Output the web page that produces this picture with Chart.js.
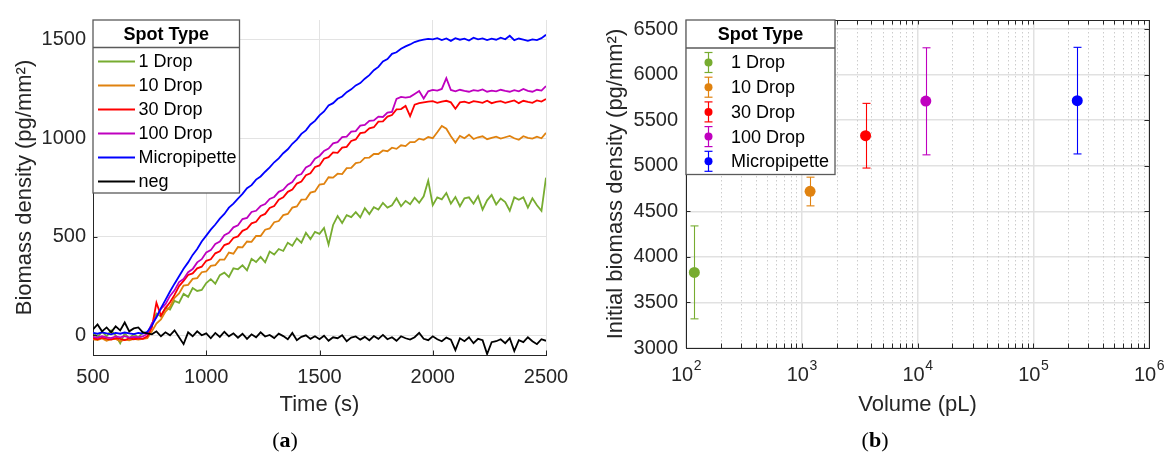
<!DOCTYPE html>
<html>
<head>
<meta charset="utf-8">
<script src="https://cdn.jsdelivr.net/npm/chart.js@4.4.1/dist/chart.umd.min.js"></script>
<style>
  body { margin:0; background:#fff; width:1169px; height:452px; overflow:hidden; position:relative; }
  canvas { position:absolute; top:0; }
  #chartA { left:0; }
  #chartB { left:584px; }
  .cap { position:absolute; top:426px; line-height:28px; font-family:"Liberation Serif","DejaVu Serif",serif; font-size:22px; color:#000; transform:translateX(-50%); }
</style>
</head>
<body>
<canvas id="chartA" width="584" height="452"></canvas>
<canvas id="chartB" width="585" height="452"></canvas>
<div class="cap" style="left:285px">(<b>a</b>)</div>
<div class="cap" style="left:875px">(<b>b</b>)</div>
<script>
// ---- (a) biomass density vs time, one reading every 20 s ----
const times = [
  500,520,540,560,580,600,620,640,660,680,
  700,720,740,760,780,800,820,840,860,880,
  900,920,940,960,980,1000,1020,1040,1060,1080,
  1100,1120,1140,1160,1180,1200,1220,1240,1260,1280,
  1300,1320,1340,1360,1380,1400,1420,1440,1460,1480,
  1500,1520,1540,1560,1580,1600,1620,1640,1660,1680,
  1700,1720,1740,1760,1780,1800,1820,1840,1860,1880,
  1900,1920,1940,1960,1980,2000,2020,2040,2060,2080,
  2100,2120,2140,2160,2180,2200,2220,2240,2260,2280,
  2300,2320,2340,2360,2380,2400,2420,2440,2460,2480,
  2500
];
const drop1 = [
  15,-10,20,-5,25,0,-40,10,-15,5,
  -10,15,10,55,110,95,140,130,175,165,
  210,195,240,225,230,265,285,262,305,318,
  296,340,335,355,330,388,372,398,370,425,
  410,438,428,470,455,492,470,520,488,525,
  515,545,460,560,605,570,610,600,625,598,
  645,615,650,638,672,648,660,695,655,682,
  665,698,672,705,785,660,700,690,722,668,
  702,655,695,700,668,706,638,685,712,664,
  694,676,632,700,688,700,648,695,660,632,
  800
];
const drop10 = [
  -20,-24,-16,-28,-20,-18,-30,-22,-26,-18,
  -22,-18,-15,20,60,80,120,145,190,212,
  252,256,286,290,320,324,352,356,384,384,
  420,414,448,446,476,474,504,504,536,542,
  574,580,610,616,648,654,688,690,724,730,
  765,768,802,800,820,818,848,850,874,878,
  900,902,920,920,938,934,952,946,964,960,
  980,980,998,992,1006,1000,1030,1062,1048,1010,
  978,1012,1000,1018,996,1005,1010,995,1002,1008,
  998,1005,1012,1000,992,1010,1002,998,1008,1000,
  1027
];
const drop30 = [
  -15,-20,-12,-18,-22,-14,-18,-24,-16,-20,
  -15,-18,-5,40,165,100,138,168,205,250,
  276,306,314,340,348,378,386,416,426,458,
  466,494,502,530,540,568,576,606,616,646,
  656,688,700,728,740,770,780,812,822,854,
  862,896,904,928,926,952,956,986,994,1026,
  1030,1050,1056,1084,1086,1110,1118,1146,1148,1164,
  1112,1170,1178,1182,1186,1188,1180,1186,1190,1182,
  1150,1182,1186,1178,1188,1184,1180,1190,1178,1185,
  1188,1180,1186,1192,1178,1190,1184,1180,1192,1186,
  1199
];
const drop100 = [
  -8,-12,-5,-10,-14,-6,-10,-4,-12,-8,
  -10,-6,8,60,92,134,158,200,228,270,
  286,320,336,370,386,420,432,464,476,508,
  520,548,558,590,596,626,632,656,666,692,
  702,728,738,764,778,810,818,852,864,896,
  910,936,948,974,980,1006,1008,1034,1036,1064,
  1068,1088,1090,1110,1108,1130,1134,1200,1210,1206,
  1210,1225,1240,1202,1238,1245,1242,1250,1305,1245,
  1238,1246,1240,1236,1244,1240,1248,1236,1242,1238,
  1246,1240,1236,1244,1238,1250,1240,1236,1246,1242,
  1265
];
const micropipette = [
  12,8,15,10,5,12,8,14,10,6,
  12,9,18,50,92,138,180,222,262,300,
  338,370,408,438,476,506,536,562,592,616,
  648,668,694,718,746,762,790,806,830,852,
  878,898,924,944,972,993,1022,1040,1070,1088,
  1116,1136,1166,1178,1200,1212,1234,1248,1268,1280,
  1302,1320,1345,1362,1390,1402,1428,1436,1454,1466,
  1476,1488,1495,1500,1504,1502,1508,1498,1506,1494,
  1508,1500,1505,1496,1510,1502,1507,1498,1505,1500,
  1510,1502,1520,1498,1506,1500,1494,1502,1498,1508,
  1525
];
const negative = [
  30,55,20,40,15,45,25,65,20,35,
  40,15,10,5,20,-5,15,0,25,-10,
  -45,15,-5,20,0,10,-15,12,-8,18,
  -5,10,-12,8,-18,5,-10,15,-6,2,
  -14,8,-4,-20,12,-25,-8,0,-18,-5,
  -20,-2,-28,-10,-15,0,-30,-12,-6,-22,
  -8,-25,-4,-18,2,-20,-10,-28,-5,-15,
  -22,-10,12,-18,-25,-5,-20,-30,-12,-22,
  -75,-15,-30,-10,-40,-18,-25,-95,-35,-30,
  -20,-40,-15,-80,-25,-35,-10,-30,-45,-20,
  -28
];
const timeTicks = [500, 1000, 1500, 2000, 2500];
const densityTicks = [0, 500, 1000, 1500];

// ---- (b) initial density vs spotted volume ----
const spotTypes = ['1 Drop', '10 Drop', '30 Drop', '100 Drop', 'Micropipette'];
const volumes = [118, 1180, 3560, 11800, 240000];
const densityMean = [3830, 4720, 5330, 5710, 5715];
const densityLow = [3320, 4560, 4975, 5120, 5130];
const densityHigh = [4340, 4875, 5685, 6295, 6300];
const volumeDecades = [100, 1000, 10000, 100000, 1000000];
const volumeExponents = ['2', '3', '4', '5', '6'];
const initialTicks = [3000, 3500, 4000, 4500, 5000, 5500, 6000, 6500];

const FONT = '"Liberation Sans", Arial, Helvetica, sans-serif';
const INK = '#262626';
const GRID = '#e3e3e3';
const colors = ['#77AC30', '#E0820F', '#FF0000', '#BF00BF', '#0000FF', '#000000'];

const traces = [
  {label: '1 Drop', values: drop1},
  {label: '10 Drop', values: drop10},
  {label: '30 Drop', values: drop30},
  {label: '100 Drop', values: drop100},
  {label: 'Micropipette', values: micropipette},
  {label: 'neg', values: negative}
];

function toPoints(xs, ys) {
  return xs.map((x, i) => ({x: x, y: ys[i]}));
}

function line(ctx, x1, y1, x2, y2) {
  ctx.beginPath();
  ctx.moveTo(x1, y1);
  ctx.lineTo(x2, y2);
  ctx.stroke();
}

function legendFrame(ctx, x, y, w, h, head) {
  ctx.save();
  ctx.fillStyle = '#fff';
  ctx.fillRect(x, y, w, h);
  ctx.strokeStyle = '#5a5a5a';
  ctx.lineWidth = 1.3;
  ctx.strokeRect(x, y, w, h);
  line(ctx, x, y + head, x + w, y + head);
  ctx.fillStyle = '#000';
  ctx.font = 'bold 18px ' + FONT;
  ctx.textAlign = 'center';
  ctx.textBaseline = 'middle';
  ctx.fillText('Spot Type', x + w / 2, y + head / 2 + 1);
  ctx.restore();
}

// inward ticks + legend for the time plot
const decorA = {
  id: 'decorA',
  afterDraw(chart) {
    const ctx = chart.ctx;
    const a = chart.chartArea;
    const sx = chart.scales.x, sy = chart.scales.y;
    ctx.save();
    ctx.strokeStyle = INK;
    ctx.lineWidth = 1;
    timeTicks.forEach(t => {
      const px = Math.round(sx.getPixelForValue(t)) + 0.5;
      line(ctx, px, a.bottom, px, a.bottom - 4.5);
    });
    densityTicks.forEach(v => {
      const py = Math.round(sy.getPixelForValue(v)) + 0.5;
      line(ctx, a.left, py, a.left + 4.5, py);
    });
    ctx.restore();

    const x = a.left, y = a.top, w = 146.5, h = 173, head = 27.5;
    legendFrame(ctx, x, y, w, h, head);
    ctx.save();
    ctx.font = '18px ' + FONT;
    ctx.textBaseline = 'middle';
    ctx.lineWidth = 2;
    traces.forEach((tr, i) => {
      const ly = y + 41.5 + i * 24;
      ctx.strokeStyle = colors[i];
      line(ctx, x + 5, ly, x + 42, ly);
      ctx.fillStyle = '#000';
      ctx.fillText(tr.label, x + 45.5, ly + 1);
    });
    ctx.restore();
  }
};

new Chart(document.getElementById('chartA'), {
  type: 'line',
  data: {
    datasets: traces.map((tr, i) => ({
      label: tr.label,
      data: toPoints(times, tr.values),
      borderColor: colors[i],
      borderWidth: 1.8,
      pointRadius: 0,
      tension: 0,
      fill: false,
      order: traces.length - i
    }))
  },
  options: {
    responsive: false,
    animation: false,
    devicePixelRatio: 1,
    events: [],
    layout: {padding: {top: 20, right: 38, left: 0, bottom: 0}},
    plugins: {legend: {display: false}, tooltip: {enabled: false}},
    scales: {
      x: {
        type: 'linear', min: 500, max: 2500,
        afterBuildTicks: s => { s.ticks = timeTicks.map(v => ({value: v})); },
        afterFit: s => { s.height = 97; },
        ticks: {font: {family: FONT, size: 20}, color: INK, padding: 10, maxRotation: 0, autoSkip: false,
                callback: v => String(v)},
        grid: {color: GRID, lineWidth: 1, drawTicks: false},
        border: {display: true, color: INK, width: 1},
        title: {display: true, text: 'Time (s)', color: INK, font: {family: FONT, size: 22}, padding: {top: 0, bottom: 34}}
      },
      y: {
        type: 'linear', min: -100, max: 1600,
        afterBuildTicks: s => { s.ticks = densityTicks.map(v => ({value: v})); },
        afterFit: s => { s.width = 93; },
        ticks: {font: {family: FONT, size: 20}, color: INK, padding: 7, callback: v => String(v)},
        grid: {color: GRID, lineWidth: 1, drawTicks: false},
        border: {display: true, color: INK, width: 1},
        title: {display: true, text: 'Biomass density (pg/mm²)', color: INK, font: {family: FONT, size: 22}, padding: {top: 12, bottom: 0}}
      }
    }
  },
  plugins: [decorA]
});

// ---- (b) ----
function volumeTickList() {
  const list = [];
  volumeDecades.forEach((d, i) => {
    list.push({value: d, major: true});
    if (i < volumeDecades.length - 1) {
      for (let m = 2; m <= 9; m++) list.push({value: d * m, major: false});
    }
  });
  return list;
}

function errorIcon(ctx, x, y, half, cap, r, color) {
  ctx.strokeStyle = color;
  ctx.fillStyle = color;
  ctx.lineWidth = 1.2;
  line(ctx, x, y - half, x, y + half);
  line(ctx, x - cap, y - half, x + cap, y - half);
  line(ctx, x - cap, y + half, x + cap, y + half);
  ctx.beginPath();
  ctx.arc(x, y, r, 0, Math.PI * 2);
  ctx.fill();
}

const decorB = {
  id: 'decorB',
  beforeDatasetsDraw(chart) {
    const ctx = chart.ctx;
    const a = chart.chartArea;
    const sx = chart.scales.x, sy = chart.scales.y;
    ctx.save();
    // dotted minor grid
    ctx.strokeStyle = '#cccccc';
    ctx.lineWidth = 1;
    ctx.setLineDash([1.5, 2.5]);
    volumeTickList().filter(t => !t.major).forEach(t => {
      const px = Math.round(sx.getPixelForValue(t.value)) + 0.5;
      line(ctx, px, a.top, px, a.bottom);
    });
    ctx.setLineDash([]);
    // error bars
    ctx.lineWidth = 1.1;
    volumes.forEach((v, i) => {
      const px = Math.round(sx.getPixelForValue(v)) + 0.5;
      const top = sy.getPixelForValue(densityHigh[i]);
      const bot = sy.getPixelForValue(densityLow[i]);
      ctx.strokeStyle = colors[i];
      line(ctx, px, top, px, bot);
      line(ctx, px - 4, top, px + 4, top);
      line(ctx, px - 4, bot, px + 4, bot);
    });
    ctx.restore();
  },
  afterDraw(chart) {
    const ctx = chart.ctx;
    const a = chart.chartArea;
    const sx = chart.scales.x, sy = chart.scales.y;
    ctx.save();
    ctx.strokeStyle = INK;
    ctx.lineWidth = 1;
    ctx.strokeRect(Math.round(a.left) + 0.5, Math.round(a.top) + 0.5,
                   Math.round(a.right - a.left), Math.round(a.bottom - a.top));
    volumeTickList().forEach(t => {
      const px = Math.round(sx.getPixelForValue(t.value)) + 0.5;
      line(ctx, px, a.bottom, px, a.bottom - 4.5);
      line(ctx, px, a.top, px, a.top + 4.5);
    });
    initialTicks.forEach(v => {
      const py = Math.round(sy.getPixelForValue(v)) + 0.5;
      line(ctx, a.left, py, a.left + 4.5, py);
      line(ctx, a.right, py, a.right - 4.5, py);
    });
    // 10^n labels
    ctx.fillStyle = INK;
    ctx.textBaseline = 'middle';
    ctx.textAlign = 'left';
    volumeDecades.forEach((d, i) => {
      const px = sx.getPixelForValue(d);
      ctx.font = '20px ' + FONT;
      const wb = ctx.measureText('10').width;
      ctx.font = '14px ' + FONT;
      const we = ctx.measureText(volumeExponents[i]).width;
      const x0 = px - (wb + we) / 2;
      ctx.font = '20px ' + FONT;
      ctx.fillText('10', x0, a.bottom + 27);
      ctx.font = '14px ' + FONT;
      ctx.fillText(volumeExponents[i], x0 + wb + 0.5, a.bottom + 18);
    });
    ctx.restore();

    const x = a.left, y = a.top, w = 149, h = 154.5, head = 28;
    legendFrame(ctx, x, y, w, h, head);
    ctx.save();
    ctx.font = '18px ' + FONT;
    ctx.textBaseline = 'middle';
    spotTypes.forEach((name, i) => {
      const ly = y + 42.5 + i * 24.7;
      errorIcon(ctx, x + 22.5, ly, 10, 4, 4, colors[i]);
      ctx.fillStyle = '#000';
      ctx.fillText(name, x + 45, ly + 1);
    });
    ctx.restore();
  }
};

new Chart(document.getElementById('chartB'), {
  type: 'scatter',
  data: {
    datasets: spotTypes.map((name, i) => ({
      label: name,
      data: [{x: volumes[i], y: densityMean[i]}],
      backgroundColor: colors[i],
      borderWidth: 0,
      pointRadius: 5.5
    }))
  },
  options: {
    responsive: false,
    animation: false,
    devicePixelRatio: 1,
    events: [],
    layout: {padding: {top: 9, right: 20, left: 0, bottom: 0}},
    plugins: {legend: {display: false}, tooltip: {enabled: false}},
    scales: {
      x: {
        type: 'logarithmic', min: 100, max: 1000000,
        afterBuildTicks: s => { s.ticks = volumeTickList(); },
        afterFit: s => { s.height = 104; },
        ticks: {display: false},
        grid: {color: c => (c.tick && c.tick.major) ? '#e1e1e1' : 'rgba(0,0,0,0)', lineWidth: 1.5, drawTicks: false},
        border: {display: false},
        title: {display: true, text: 'Volume (pL)', color: INK, font: {family: FONT, size: 22}, padding: {top: 0, bottom: 34}}
      },
      y: {
        type: 'linear', min: 3000, max: 6600,
        afterBuildTicks: s => { s.ticks = initialTicks.map(v => ({value: v})); },
        afterFit: s => { s.width = 102; },
        ticks: {font: {family: FONT, size: 20}, color: INK, padding: 8, callback: v => String(v)},
        grid: {color: '#e1e1e1', lineWidth: 1.5, drawTicks: false},
        border: {display: false},
        title: {display: true, text: 'Initial biomass density (pg/mm²)', color: INK, font: {family: FONT, size: 22}, padding: {top: 19, bottom: 0}}
      }
    }
  },
  plugins: [decorB]
});
</script>
</body>
</html>
